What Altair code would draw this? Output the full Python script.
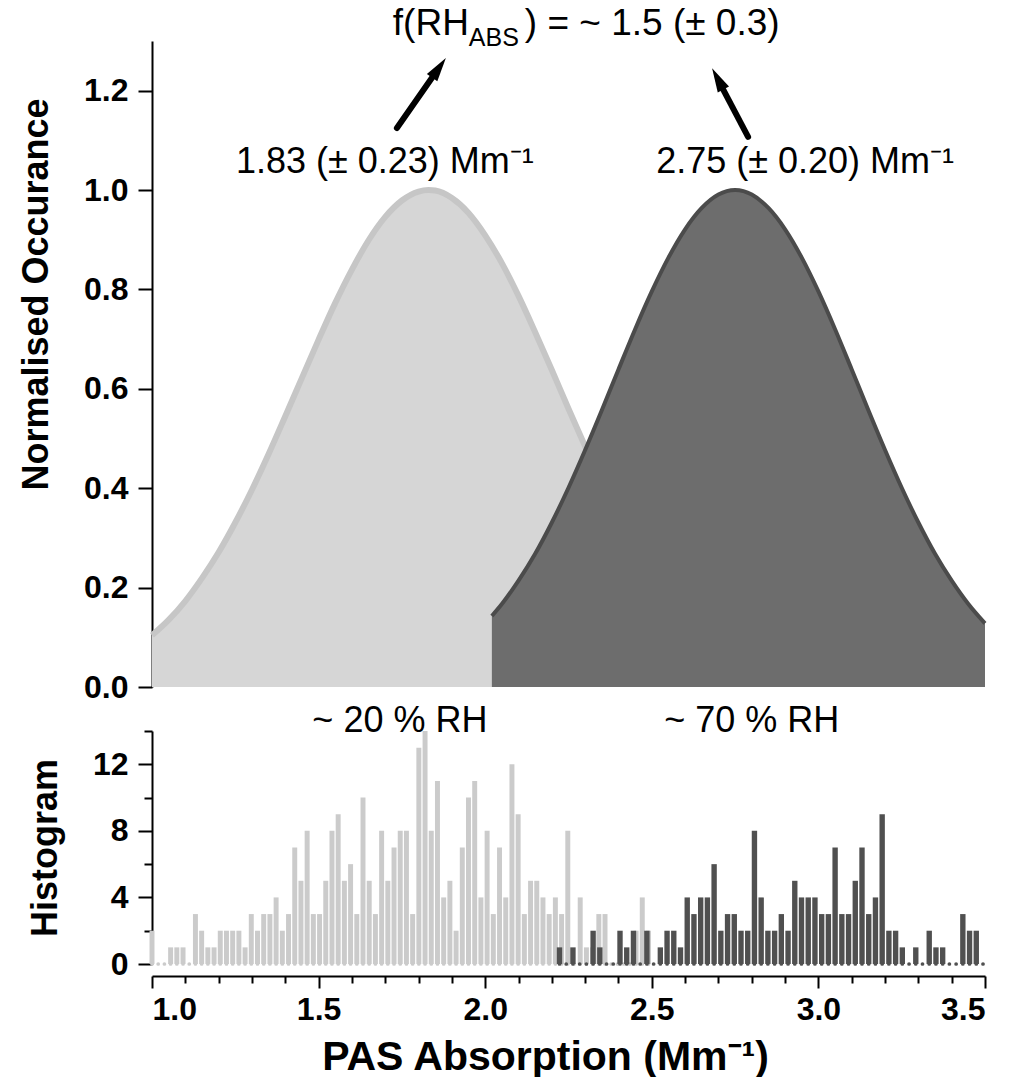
import altair as alt
import pandas as pd

FONT = "Liberation Sans"

# ---------------- top panel : normalised distributions
light_x = [1.00, 1.05, 1.10, 1.15, 1.20, 1.25, 1.30, 1.35, 1.40, 1.45, 1.50, 1.55,
           1.60, 1.65, 1.70, 1.75, 1.80, 1.83, 1.85, 1.90, 1.95, 2.00, 2.05, 2.10,
           2.15, 2.20, 2.25, 2.30, 2.35, 2.40, 2.45, 2.50]
light_y = [0.104, 0.135, 0.173, 0.219, 0.271, 0.331, 0.397, 0.469, 0.545, 0.622, 0.699, 0.773,
           0.840, 0.899, 0.946, 0.979, 0.997, 1.000, 0.999, 0.984, 0.954, 0.909, 0.853, 0.787,
           0.714, 0.638, 0.560, 0.484, 0.411, 0.344, 0.283, 0.229]
dark_x = [2.02, 2.05, 2.10, 2.15, 2.20, 2.25, 2.30, 2.35, 2.40, 2.45, 2.50, 2.55, 2.60,
          2.65, 2.70, 2.75, 2.80, 2.85, 2.90, 2.95, 3.00, 3.05, 3.10, 3.15, 3.20, 3.25,
          3.30, 3.35, 3.40, 3.45, 3.50]
dark_y = [0.143, 0.167, 0.214, 0.268, 0.331, 0.401, 0.477, 0.557, 0.639, 0.720, 0.796, 0.864,
          0.921, 0.964, 0.991, 1.000, 0.991, 0.964, 0.921, 0.864, 0.796, 0.720, 0.639, 0.557,
          0.477, 0.401, 0.331, 0.268, 0.214, 0.167, 0.128]

# ---------------- bottom panel : histograms (counts per bin)
light_counts = [2, 0, 0, 1, 1, 1, 0, 3, 2, 1,
                1, 2, 2, 2, 2, 1, 3, 2, 3, 3,
                4, 2, 3, 7, 5, 8, 3, 3, 5, 8,
                9, 5, 6, 3, 10, 5, 3, 8, 5, 7,
                8, 8, 3, 13, 14, 8, 11, 4, 5, 2,
                7, 10, 11, 4, 8, 3, 7, 4, 12, 9,
                3, 5, 5, 4, 3, 4, 3, 8, 0, 4,
                1, 1, 3, 3, 0, 0, 0, 0, 2, 4, 2]
light_first, light_last = 1.00, 2.49
dark_counts = [1, 0, 1, 0, 0, 2, 1, 0, 0, 2,
               1, 2, 0, 2, 0, 1, 2, 2, 1, 4,
               3, 4, 4, 6, 2, 3, 3, 2, 2, 8,
               4, 2, 2, 3, 2, 5, 4, 4, 4, 3,
               3, 7, 3, 3, 5, 7, 3, 4, 9, 2,
               2, 1, 0, 1, 0, 2, 1, 1, 0, 0,
               3, 2, 2, 0]
dark_first, dark_last = 2.223, 3.494

# ---------------- annotations
labels = ["1.83 (± 0.23) Mm⁻¹", "2.75 (± 0.20) Mm⁻¹"]
label_x = [1.252, 2.513]
label_y = [1.056, 1.056]
rh_labels = ["~ 20 % RH", "~ 70 % RH"]
rh_x = [1.744, 2.80]
rh_y = [14.58, 14.58]          # just above the histogram frame
arrow_x = [1.735, 2.789]      # tails
arrow_y = [1.125, 1.107]
arrow_x2 = [1.882, 2.681]     # tips
arrow_y2 = [1.266, 1.245]
arrow_angle = [35, 332]

x_major = [1.0, 1.5, 2.0, 2.5, 3.0, 3.5]
x_minor = [1.1, 1.2, 1.3, 1.4, 1.6, 1.7, 1.8, 1.9, 2.1, 2.2, 2.3, 2.4,
           2.6, 2.7, 2.8, 2.9, 3.1, 3.2, 3.3, 3.4]


def hist_frame(counts, first, last):
    n = len(counts)
    w = (last - first) / (n - 1)
    return pd.DataFrame({
        "xc": [first + i * w for i in range(n)],
        "x0": [first + i * w - 0.40 * w for i in range(n)],
        "x1": [first + i * w + 0.40 * w for i in range(n)],
        "count": counts,
        "base": [0] * n,
    })


light_df = pd.DataFrame({"x": light_x, "y": light_y})
dark_df = pd.DataFrame({"x": dark_x, "y": dark_y})
lab_df = pd.DataFrame({"x": label_x, "y": label_y, "t": labels})
rh_df = pd.DataFrame({"xc": rh_x, "base": rh_y, "t": rh_labels})
arr_df = pd.DataFrame({
    "x": arrow_x, "y": arrow_y,
    # shaft stops where the arrow head begins
    "xe": [a + 0.72 * (b - a) for a, b in zip(arrow_x, arrow_x2)],
    "ye": [a + 0.72 * (b - a) for a, b in zip(arrow_y, arrow_y2)],
    "x2": arrow_x2, "y2": arrow_y2, "ang": arrow_angle})
lh = hist_frame(light_counts, light_first, light_last)
dh = hist_frame(dark_counts, dark_first, dark_last)

xs = alt.Scale(domain=[1.0, 3.5], nice=False, zero=False)
ys = alt.Scale(domain=[0, 1.3], nice=False)

X = alt.X("x:Q", scale=xs, axis=None)
Y = alt.Y("y:Q", scale=ys, axis=alt.Axis(
    values=[0, 0.2, 0.4, 0.6, 0.8, 1.0, 1.2], format=".1f", title="Normalised Occurance",
    tickSize=14, labelPadding=10, titlePadding=28, titleFontSize=36, titleY=253, grid=False))

light_area = alt.Chart(light_df).mark_area(color="#d6d6d6", interpolate="monotone").encode(x=X, y=Y)
light_line = alt.Chart(light_df).mark_line(color="#c6c6c6", strokeWidth=6, interpolate="monotone").encode(x=X, y=Y)
dark_area = alt.Chart(dark_df).mark_area(color="#6d6d6d", interpolate="monotone").encode(x=X, y=Y)
dark_line = alt.Chart(dark_df).mark_line(color="#4b4b4b", strokeWidth=4, interpolate="monotone").encode(x=X, y=Y)
arrows = alt.Chart(arr_df).mark_rule(color="black", strokeWidth=6, strokeCap="round").encode(
    x=X, y=Y, x2="xe:Q", y2="ye:Q")
heads = alt.Chart(arr_df).mark_point(
    shape="M0,0 L0.45,1.7 L-0.45,1.7 Z", filled=True, color="black", size=800, opacity=1
).encode(x=alt.X("x2:Q", scale=xs, axis=None), y=alt.Y("y2:Q", scale=ys),
         angle=alt.Angle("ang:Q", scale=None))
texts = alt.Chart(lab_df).mark_text(font=FONT, fontSize=36, align="left", color="black").encode(
    x=X, y=Y, text="t:N")

# formula with subscript
f_main = alt.Chart(pd.DataFrame({"x": [1.951], "y": [1.335], "t": ["f(RH"]})).mark_text(
    font=FONT, fontSize=37, align="right", color="black").encode(x=X, y=Y, text="t:N")
f_sub = alt.Chart(pd.DataFrame({"x": [1.951], "y": [1.335], "t": ["ABS"]})).mark_text(
    font=FONT, fontSize=25, align="left", dy=14, color="black").encode(x=X, y=Y, text="t:N")
f_rest = alt.Chart(pd.DataFrame({"x": [2.119], "y": [1.335], "t": [") = ~ 1.5 (± 0.3)"]})).mark_text(
    font=FONT, fontSize=37, align="left", color="black").encode(x=X, y=Y, text="t:N")

top = alt.layer(light_area, light_line, dark_area, dark_line, arrows, heads, texts,
                f_main, f_sub, f_rest).properties(width=833, height=646)

# ---------------- bottom histogram
HS = alt.Scale(domain=[0, 14], nice=False)
hy_major = alt.Axis(values=[0, 4, 8, 12], title="Histogram", tickSize=14, labelPadding=10,
                    titlePadding=28, titleFontSize=36, grid=False, orient="left")
hy_minor = alt.Axis(values=[2, 6, 10, 14], labels=False, title=None, tickSize=8,
                    domain=False, grid=False, orient="left")
hx_major = alt.Axis(values=x_major, format=".1f", title="PAS Absorption (Mm⁻¹)", tickSize=12,
                    offset=12, labelPadding=6, titlePadding=12, titleFontSize=41, titleX=393,
                    grid=False, orient="bottom")
hx_minor = alt.Axis(values=x_minor, labels=False, title=None, tickSize=7, domain=False,
                    offset=12, grid=False, orient="bottom")

l_bars = alt.Chart(lh).mark_rect(color="#cbcbcb").encode(
    x=alt.X("x0:Q", scale=xs, axis=hx_major), x2="x1:Q",
    y=alt.Y("count:Q", scale=HS, axis=hy_major), y2="base:Q")
l_dots = alt.Chart(lh).mark_circle(color="#cbcbcb", size=14, opacity=1).encode(
    x=alt.X("xc:Q", scale=xs, axis=None), y=alt.Y("base:Q", scale=HS, axis=None))
d_bars = alt.Chart(dh).mark_rect(color="#505050").encode(
    x=alt.X("x0:Q", scale=xs, axis=hx_minor), x2="x1:Q",
    y=alt.Y("count:Q", scale=HS, axis=hy_minor), y2="base:Q")
d_dots = alt.Chart(dh).mark_circle(color="#505050", size=14, opacity=1).encode(
    x=alt.X("xc:Q", scale=xs, axis=None), y=alt.Y("base:Q", scale=HS, axis=None))
rh_texts = alt.Chart(rh_df).mark_text(font=FONT, fontSize=36, color="black").encode(
    x=alt.X("xc:Q", scale=xs, axis=None), y=alt.Y("base:Q", scale=HS, axis=None), text="t:N")

bottom = alt.layer(l_bars, l_dots, d_bars, d_dots, rh_texts).resolve_axis(
    x="independent", y="independent").properties(width=833, height=233)

chart = alt.vconcat(top, bottom, spacing=0).properties(
    padding={"left": 18, "top": 4, "right": 0, "bottom": 0}
).configure_view(stroke=None).configure_axis(
    labelFont=FONT, titleFont=FONT, labelFontWeight="bold", titleFontWeight="bold",
    labelFontSize=32, titleFontSize=32, labelColor="black", titleColor="black",
    domainColor="black", tickColor="black", domainWidth=2, tickWidth=2
)

chart.save("out.html", embed_options={"renderer": "svg", "actions": False})
